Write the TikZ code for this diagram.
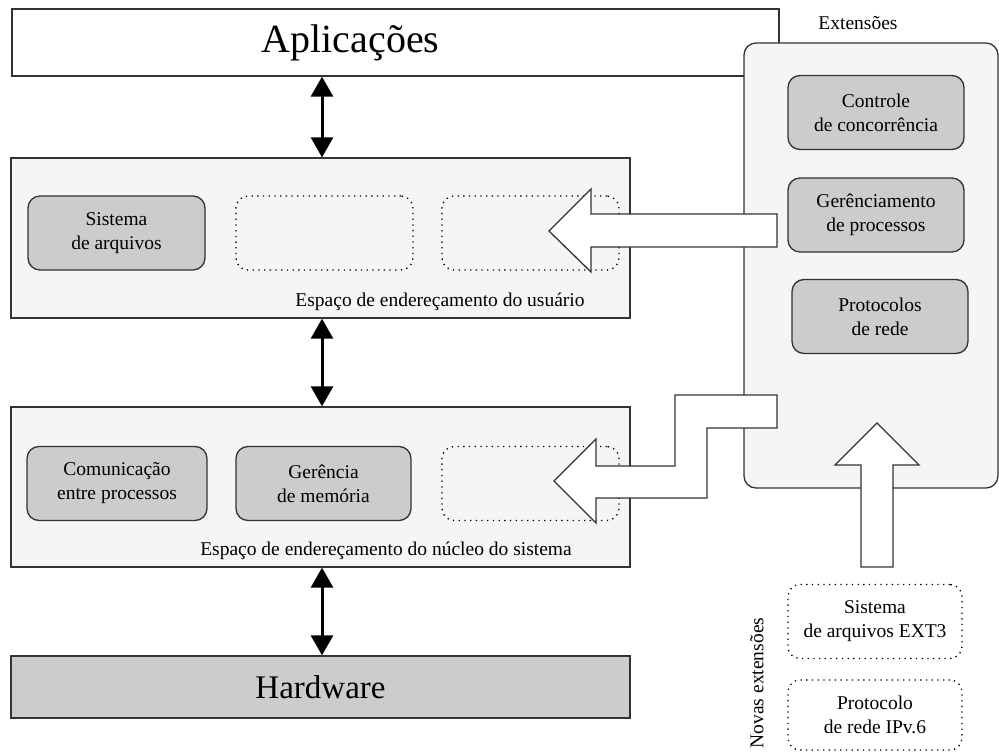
\documentclass[tikz,border=0pt]{standalone}
\usepackage{fontspec}
\setmainfont{Liberation Serif}
\usetikzlibrary{arrows.meta}
\definecolor{cinzaclaro}{HTML}{F5F5F5}
\definecolor{cinza}{HTML}{CCCCCC}
\definecolor{borda}{HTML}{333333}

\begin{document}
\begin{tikzpicture}[x=1pt,y=-1pt,
  texto/.style={font={\fontsize{19.5}{24}\selectfont},align=center},
  camada/.style={draw=borda,line width=1.3pt,fill=cinzaclaro,inner sep=0pt},
  modulo/.style={texto,draw=borda,line width=1.3pt,fill=cinza,rounded corners=12pt,minimum width=177pt,minimum height=74pt,inner sep=0pt},
  vazio/.style={texto,draw=black,line width=1.3pt,dash pattern=on 1.3pt off 4.4pt,rounded corners=12pt,minimum width=177pt,minimum height=74pt,inner sep=0pt},
  seta/.style={line width=3pt,{Triangle[width=22pt,length=20pt]}-{Triangle[width=22pt,length=20pt]}},
  setagrande/.style={draw=borda,line width=1.3pt,fill=white,line join=miter}]
\useasboundingbox (0,0) rectangle (999,752);

\node[camada,fill=white,minimum width=767pt,minimum height=67pt,
  label={[font={\fontsize{40}{48}\selectfont},xshift=-45pt]center:Aplicações}] (app) at (395.5,42.5) {};

\node[camada,minimum width=619pt,minimum height=160pt] (usr) at (320.5,238) {};
\node[modulo] (arq) at (116.5,233) {Sistema\\de arquivos};
\node[vazio] (v1) at (324.5,233) {};
\node[vazio] (v2) at (530.5,233) {};
\node[texto] (lusr) at (440,302) {Espaço de endereçamento do usuário};

\node[camada,minimum width=619pt,minimum height=160pt] (ker) at (320.5,487) {};
\node[modulo,minimum width=180pt] (com) at (117,483.5) {Comunicação\\entre processos};
\node[modulo,minimum width=175pt] (mem) at (323.5,483.5) {Gerência\\de memória};
\node[vazio] (v3) at (530.5,483.5) {};
\node[texto] (lker) at (386,551) {Espaço de endereçamento do núcleo do sistema};

\node[camada,fill=cinza,minimum width=619pt,minimum height=62pt,font={\fontsize{33}{40}\selectfont}] (hw) at (320.5,687) {Hardware};

\coordinate (meio) at (322,0);
\draw[seta] (app.south -| meio) -- (usr.north -| meio);
\draw[seta] (usr.south -| meio) -- (ker.north -| meio);
\draw[seta] (ker.south -| meio) -- (hw.north -| meio);

\node[camada,rounded corners=12pt,minimum width=254pt,minimum height=445pt] (ext) at (871,265.5) {};
\node[texto] (lext) at (858,23) {Extensões};
\node[modulo,minimum width=176pt] (conc) at (876,112.5) {Controle\\de concorrência};
\node[modulo,minimum width=176pt] (proc) at (876,215) {Gerênciamento\\de processos};
\node[modulo,minimum width=176pt] (rede) at (880,316.5) {Protocolos\\de rede};

\node[vazio,minimum width=174pt] (ext3) at (875,621.5) {Sistema\\de arquivos EXT3};
\node[vazio,minimum width=174pt,minimum height=70pt] (ipv6) at (875,715) {Protocolo\\de rede IPv.6};
\node[texto,rotate=90] (novas) at (757,683) {Novas extensões};

\draw[setagrande] (777,214) -- (591,214) -- (591,189) -- (549,231) -- (591,272) -- (591,247) -- (777,247) -- cycle;
\draw[setagrande] (777,395) -- (777,428) -- (707,428) -- (707,498) -- (596,498) -- (596,523) -- (554,481)
  -- (596,439) -- (596,466) -- (675,466) -- (675,395) -- cycle;
\draw[setagrande] (861,567) -- (861,465) -- (835,465) -- (877,423) -- (919,465) -- (893,465) -- (893,567) -- cycle;
\end{tikzpicture}
\end{document}
